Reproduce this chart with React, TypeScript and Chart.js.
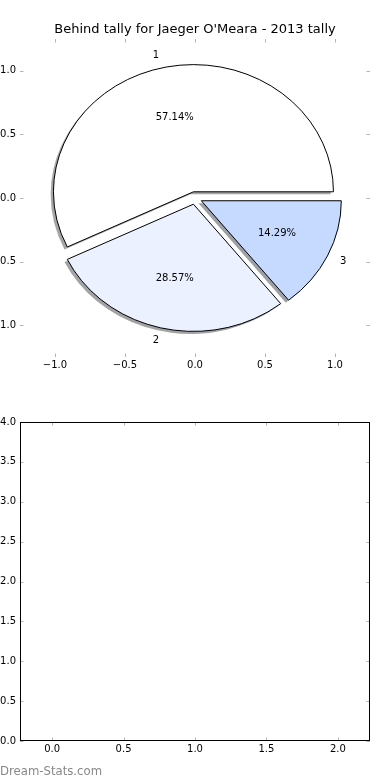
import React, { useEffect, useRef } from 'react';
import { Chart, registerables } from 'chart.js';

Chart.register(...registerables);

const FONT = "'DejaVu Sans', sans-serif";
const TITLE = "Behind tally for Jaeger O'Meara - 2013 tally";
const SLICE_LABELS = ['1', '2', '3'];
const SLICE_VALUES = [4, 2, 1];
const SLICE_COLORS = ['#ffffff', '#ebf1ff', '#c6d9ff'];
const SLICE_EXPLODE = [0.05, 0.05, 0.05];
const PIE_X_TICKS = [-1, -0.5, 0, 0.5, 1];
const PIE_Y_TICKS = [-1, -0.5, 0, 0.5, 1];
const EMPTY_X_TICKS = [0, 0.5, 1, 1.5, 2];
const EMPTY_Y_TICKS = [0, 0.5, 1, 1.5, 2, 2.5, 3, 3.5, 4];
const WATERMARK = 'Dream-Stats.com';

const fmt = (v: number) => v.toFixed(1).replace('-', '\u2212');

const innerTicks = {
  id: 'innerTicks',
  afterDraw(chart: any) {
    const { ctx, chartArea: a, scales } = chart;
    const x = scales.x;
    const y = scales.y;
    const L = 3.5;
    ctx.save();
    ctx.strokeStyle = '#b4b4b4';
    ctx.lineWidth = 1;
    ctx.beginPath();
    x.ticks.forEach((t: any) => {
      const px = Math.round(x.getPixelForValue(t.value)) + 0.5;
      ctx.moveTo(px, a.top);
      ctx.lineTo(px, a.top + L);
      ctx.moveTo(px, a.bottom);
      ctx.lineTo(px, a.bottom - L);
    });
    y.ticks.forEach((t: any) => {
      const py = Math.round(y.getPixelForValue(t.value)) + 0.5;
      ctx.moveTo(a.left, py);
      ctx.lineTo(a.left + L, py);
      ctx.moveTo(a.right, py);
      ctx.lineTo(a.right - L, py);
    });
    ctx.stroke();
    ctx.restore();
  },
};

const frame = {
  id: 'frame',
  afterDraw(chart: any, _args: any, opts: any) {
    if (!opts || !opts.show) return;
    const { ctx, chartArea: a } = chart;
    ctx.save();
    ctx.strokeStyle = '#000';
    ctx.lineWidth = 1;
    ctx.strokeRect(Math.round(a.left) + 0.5, Math.round(a.top) + 0.5, Math.round(a.right - a.left) - 1, Math.round(a.bottom - a.top) - 1);
    ctx.restore();
  },
};

const textDecor = {
  id: 'textDecor',
  afterDraw(chart: any, _args: any, opts: any) {
    if (!opts) return;
    const { ctx, chartArea: a } = chart;
    ctx.save();
    if (opts.title) {
      ctx.fillStyle = '#000';
      ctx.font = `13px ${FONT}`;
      ctx.textAlign = 'center';
      ctx.textBaseline = 'alphabetic';
      ctx.fillText(opts.title, (a.left + a.right) / 2, a.top - 6);
    }
    if (opts.watermark) {
      ctx.fillStyle = '#888888';
      ctx.font = `11.7px ${FONT}`;
      ctx.textAlign = 'left';
      ctx.textBaseline = 'alphabetic';
      ctx.fillText(opts.watermark, 0, chart.height - 5.5);
    }
    ctx.restore();
  },
};

const pieSlices = {
  id: 'pieSlices',
  afterDatasetsDraw(chart: any, _args: any, opts: any) {
    if (!opts || !opts.values) return;
    const { ctx, scales } = chart;
    const x = scales.x;
    const y = scales.y;
    const values: number[] = opts.values;
    const total = values.reduce((s, v) => s + v, 0);
    const rx = x.getPixelForValue(1) - x.getPixelForValue(0);
    const ry = y.getPixelForValue(0) - y.getPixelForValue(1);
    let theta = 0;
    const wedges = values.map((v, i) => {
      const t1 = theta;
      const t2 = theta + (v / total) * Math.PI * 2;
      theta = t2;
      const tm = (t1 + t2) / 2;
      const ex = opts.explode[i];
      return { i, v, t1, t2, tm, cx: ex * Math.cos(tm), cy: ex * Math.sin(tm) };
    });
    const hexToRgb = (h: string) => {
      const n = parseInt(h.slice(1), 16);
      return [(n >> 16) & 255, (n >> 8) & 255, n & 255];
    };
    const path = (cxd: number, cyd: number, t1: number, t2: number) => {
      const cx = x.getPixelForValue(cxd);
      const cy = y.getPixelForValue(cyd);
      ctx.beginPath();
      ctx.moveTo(cx, cy);
      ctx.ellipse(cx, cy, rx, ry, 0, -t1, -t2, true);
      ctx.closePath();
    };
    ctx.save();
    wedges.forEach((w) => {
      const [r, g, b] = hexToRgb(opts.colors[w.i]);
      ctx.fillStyle = `rgba(${Math.round(r * 0.3)},${Math.round(g * 0.3)},${Math.round(b * 0.3)},0.5)`;
      path(w.cx - 0.02, w.cy - 0.02, w.t1, w.t2);
      ctx.fill();
    });
    wedges.forEach((w) => {
      ctx.fillStyle = opts.colors[w.i];
      ctx.strokeStyle = '#000';
      ctx.lineWidth = 1;
      ctx.lineJoin = 'miter';
      path(w.cx, w.cy, w.t1, w.t2);
      ctx.fill();
      ctx.stroke();
    });
    ctx.fillStyle = '#000';
    ctx.font = `10px ${FONT}`;
    ctx.textBaseline = 'middle';
    wedges.forEach((w) => {
      const lx = w.cx + 1.1 * Math.cos(w.tm);
      const ly = w.cy + 1.1 * Math.sin(w.tm);
      ctx.textAlign = lx < 0 ? 'right' : 'left';
      ctx.fillText(opts.labels[w.i], x.getPixelForValue(lx), y.getPixelForValue(ly));
      const px = w.cx + 0.6 * Math.cos(w.tm);
      const py = w.cy + 0.6 * Math.sin(w.tm);
      ctx.textAlign = 'center';
      ctx.fillText(((w.v / total) * 100).toFixed(2) + '%', x.getPixelForValue(px), y.getPixelForValue(py));
    });
    ctx.restore();
  },
};

function axis(min: number, max: number, ticks: number[], isY: boolean, size: number) {
  return {
    type: 'linear',
    position: isY ? 'left' : 'bottom',
    min,
    max,
    grid: { display: false, drawTicks: false },
    border: { display: false },
    afterBuildTicks: (scale: any) => {
      scale.ticks = ticks.map((v) => ({ value: v }));
    },
    afterFit: (scale: any) => {
      if (isY) scale.width = size;
      else scale.height = size;
    },
    ticks: {
      autoSkip: false,
      maxRotation: 0,
      minRotation: 0,
      padding: isY ? 4 : 2,
      color: '#000',
      font: { family: FONT, size: 10 },
      callback: (v: any) => fmt(Number(v)),
    },
  };
}

function PieChart() {
  const ref = useRef<HTMLCanvasElement | null>(null);
  useEffect(() => {
    if (!ref.current) return;
    const chart = new Chart(ref.current, {
      type: 'scatter',
      data: { datasets: [{ data: [] }] },
      options: {
        responsive: false,
        animation: false,
        events: [],
        layout: { padding: { top: 39, right: 20, left: 0, bottom: 0 } },
        scales: {
          x: axis(-1.25, 1.25, PIE_X_TICKS, false, 33),
          y: axis(-1.25, 1.25, PIE_Y_TICKS, true, 20),
        } as any,
        plugins: {
          legend: { display: false },
          tooltip: { enabled: false },
          textDecor: { title: TITLE },
          pieSlices: { values: SLICE_VALUES, colors: SLICE_COLORS, labels: SLICE_LABELS, explode: SLICE_EXPLODE },
        } as any,
      },
      plugins: [pieSlices, innerTicks, textDecor],
    } as any);
    return () => chart.destroy();
  }, []);
  return <canvas ref={ref} width={390} height={390} style={{ display: 'block', width: 390, height: 390 }} />;
}

function EmptyChart() {
  const ref = useRef<HTMLCanvasElement | null>(null);
  useEffect(() => {
    if (!ref.current) return;
    const chart = new Chart(ref.current, {
      type: 'scatter',
      data: { datasets: [{ data: [] }] },
      options: {
        responsive: false,
        animation: false,
        events: [],
        layout: { padding: { top: 32, right: 20, left: 0, bottom: 0 } },
        scales: {
          x: axis(-0.225, 2.225, EMPTY_X_TICKS, false, 39),
          y: axis(0, 4, EMPTY_Y_TICKS, true, 20),
        } as any,
        plugins: {
          legend: { display: false },
          tooltip: { enabled: false },
          frame: { show: true },
          textDecor: { watermark: WATERMARK },
        } as any,
      },
      plugins: [innerTicks, frame, textDecor],
    } as any);
    return () => chart.destroy();
  }, []);
  return <canvas ref={ref} width={390} height={390} style={{ display: 'block', width: 390, height: 390 }} />;
}

export default function App() {
  return (
    <div style={{ position: 'absolute', left: 0, top: 0, width: 390, height: 780, background: '#fff', overflow: 'hidden' }}>
      <PieChart />
      <EmptyChart />
    </div>
  );
}
